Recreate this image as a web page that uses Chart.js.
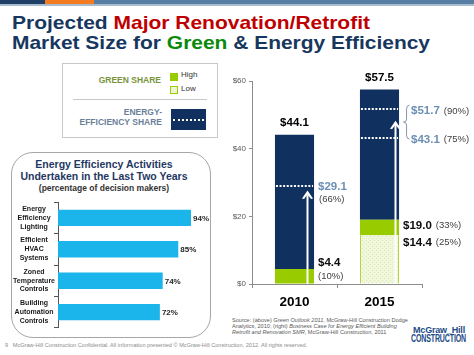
<!DOCTYPE html>
<html><head><meta charset="utf-8">
<script src="https://cdn.jsdelivr.net/npm/chart.js@4.4.0/dist/chart.umd.min.js"></script>
<style>
html,body{margin:0;padding:0;}
body{width:474px;height:355px;position:relative;overflow:hidden;background:#fff;font-family:"Liberation Sans",Arial,sans-serif;}
.a{position:absolute;white-space:nowrap;}
#band{left:0;top:0;width:474px;height:4px;background:linear-gradient(to right,#1f3f66 0,#1f3f66 45px,#f47b20 45px,#f47b20 94px,#587ea3 94px);}
#band2{left:0;top:4px;width:474px;height:2px;background:#a9bccf;}
.tl{left:12px;font-weight:bold;font-size:18.5px;line-height:20px;color:#17375e;transform-origin:0 0;}
#t1{top:13px;}
#t2{top:33px;}
.red{color:#c00000}.grn{color:#0a8a0a}
#lgbox{left:62px;top:63px;width:154px;height:73px;border:1px solid #c8c8c8;}
.lgt{font-weight:bold;font-size:8.5px;line-height:10px;text-align:right;}
#gs{right:313px;top:75px;color:#77933c;}
#es{right:312px;top:107px;color:#6b7f99;}
.sw{width:6px;height:6px;}
#swH{left:170px;top:73px;background:#99cc00;border:1px solid #99cc00;}
#swL{left:170px;top:86px;background:#eef5d6;border:1px solid #99cc00;}
.lgs{font-size:8px;line-height:10px;color:#333;}
#lH{left:181px;top:70px;}
#lL{left:181px;top:84px;}
#div{left:73px;top:99px;width:134px;height:1px;background:#c8c8c8;}
#navy{left:171px;top:109px;width:35px;height:21px;background:#10305f;}
#navyDot{left:173px;top:119px;width:31px;height:0;border-top:2px dotted #fff;}
#inset{left:11px;top:152px;width:198px;height:184px;border:1.5px solid #a6a6a6;border-radius:22px;}
.it{left:4px;width:200px;text-align:center;color:#1f3864;font-weight:bold;}
#it1{top:158px;font-size:10.5px;line-height:12px;}
#it2{top:170px;font-size:10.5px;line-height:12px;}
#it3{top:183px;font-size:8.5px;line-height:10px;color:#333;}
#src{left:232px;top:317px;font-size:5.6px;line-height:6px;color:#595959;}
#foot{left:5px;top:342px;font-size:5.6px;line-height:7px;color:#8c8c8c;}
.logo{font-weight:bold;color:#1c4a85;transform-origin:0 0;letter-spacing:-0.2px;}
#logo1{left:413px;top:325px;font-size:9.5px;line-height:9px;}
#logo2{left:411px;top:334px;font-size:10px;line-height:10px;}
#c1{position:absolute;left:222px;top:60px;}
#c2{position:absolute;left:4px;top:190px;}
</style></head>
<body>
<div class="a" id="band"></div><div class="a" id="band2"></div>
<div class="a tl" id="t1">Projected <span class="red">Major Renovation/Retrofit</span></div>
<div class="a tl" id="t2">Market Size for <span class="grn">Green</span> &amp; Energy Efficiency</div>
<div class="a" id="lgbox"></div>
<div class="a lgt" id="gs">GREEN SHARE</div>
<div class="a sw" id="swH"></div><div class="a lgs" id="lH">High</div>
<div class="a sw" id="swL"></div><div class="a lgs" id="lL">Low</div>
<div class="a" id="div"></div>
<div class="a lgt" id="es">ENERGY-<br>EFFICIENCY SHARE</div>
<div class="a" id="navy"></div><div class="a" id="navyDot"></div>
<div class="a" id="inset"></div>
<div class="a it" id="it1">Energy Efficiency Activities</div>
<div class="a it" id="it2">Undertaken in the Last Two Years</div>
<div class="a it" id="it3">(percentage of decision makers)</div>
<div class="a" id="src">Source: (above) <i>Green Outlook 2011</i>, McGraw-Hill Construction Dodge<br>Analytics, 2010; (right) <i>Business Case for Energy Efficient Building<br>Retrofit and Renovation SMR</i>, McGraw-Hill Construction, 2011</div>
<div class="a" id="foot">9&nbsp;&nbsp;&nbsp;McGraw-Hill Construction Confidential. All information presented © McGraw-Hill Construction, 2012. All rights reserved.</div>
<div class="a logo" id="logo1">McGraw_Hill</div>
<div class="a logo" id="logo2">CONSTRUCTION</div>
<canvas id="c1" width="252" height="254"></canvas>
<canvas id="c2" width="210" height="150"></canvas>
<script>
// ---- data ----
const years = ['2010', '2015'];
const totalMarket = [44.1, 57.5];
const greenHigh = [4.4, 19.0];
const greenHighPct = [10, 33];
const greenLow = [0, 14.4];
const greenLowPct = [null, 25];
const energyHigh = [29.1, 51.7];
const energyHighPct = [66, 90];
const energyLow = [null, 43.1];
const energyLowPct = [null, 75];
const yTicks = [0, 20, 40, 60];

const activities = [['Energy','Efficiency','Lighting'],['Efficient','HVAC','Systems'],['Zoned','Temperature','Controls'],['Building','Automation','Controls']];
const activityPct = [94, 85, 74, 72];

// stretch slide text horizontally to the widths of the original slide
function fitWidth(id, w){
  const el = document.getElementById(id);
  const r = el.getBoundingClientRect().width;
  el.style.transform = 'scaleX(' + (w / r) + ')';
}
fitWidth('t1', 358); fitWidth('t2', 418);
fitWidth('logo1', 52); fitWidth('logo2', 55);

Chart.defaults.font.family = "'Liberation Sans', Arial, sans-serif";

const NAVY = '#10305f', GREEN = '#99cc00', STEEL = '#6d8fb3';

function hatch(){
  const p = document.createElement('canvas'); p.width = 4; p.height = 4;
  const g = p.getContext('2d');
  g.fillStyle = '#f1f7dd'; g.fillRect(0,0,4,4);
  g.fillStyle = '#dbe9b0'; g.fillRect(0,0,1,1); g.fillRect(2,2,1,1);
  return g.createPattern(p,'repeat');
}

const lowSeg = greenLow.map(v => v || null);
const highSeg = greenHigh.map((v,i) => +(v - (greenLow[i]||0)).toFixed(2));
const restSeg = totalMarket.map((v,i) => +(v - greenHigh[i]).toFixed(2));

const annot = {
  id: 'annot',
  afterDatasetsDraw(chart){
    const {ctx, scales:{x, y}} = chart;
    const meta = chart.getDatasetMeta(2);
    ctx.save();
    for (let i = 0; i < years.length; i++){
      const bar = meta.data[i];
      const xc = bar.x, w = bar.width, left = xc - w/2, right = xc + w/2;
      ctx.strokeStyle = '#fff'; ctx.lineWidth = 2; ctx.setLineDash([2,1.6]);
      [energyHigh[i], energyLow[i]].forEach(v => {
        if (v == null) return;
        const py = Math.round(y.getPixelForValue(v));
        ctx.beginPath(); ctx.moveTo(left+1, py); ctx.lineTo(right-1, py); ctx.stroke();
      });
      ctx.setLineDash([]);
      const ax = Math.round(xc + (i === 0 ? 12 : 15)) + 0.5;
      let tip;
      if (energyLow[i] == null) tip = y.getPixelForValue(energyHigh[i]) + 5;
      else tip = (y.getPixelForValue(energyHigh[i]) + y.getPixelForValue(energyLow[i]))/2 - 3;
      const y0 = y.getPixelForValue(0);
      ctx.strokeStyle = '#fff'; ctx.lineWidth = 2;
      ctx.beginPath(); ctx.moveTo(ax, y0); ctx.lineTo(ax, tip + 4); ctx.stroke();
      ctx.fillStyle = '#fff';
      ctx.beginPath(); ctx.moveTo(ax, tip); ctx.lineTo(ax+5.5, tip+8); ctx.lineTo(ax+3.5, tip+8.5); ctx.lineTo(ax, tip+4); ctx.lineTo(ax-3.5, tip+8.5); ctx.lineTo(ax-5.5, tip+8); ctx.closePath(); ctx.fill();

      ctx.textBaseline = 'middle';
      ctx.fillStyle = '#000'; ctx.textAlign = 'center';
      ctx.font = "bold 11.5px 'Liberation Sans', Arial";
      ctx.fillText('$' + totalMarket[i].toFixed(1), xc, y.getPixelForValue(totalMarket[i]) - 12);

      ctx.textAlign = 'left';
      const lx = right + 4;
      const money = (val, px, py, col) => {
        ctx.font = "bold 11.5px 'Liberation Sans', Arial"; ctx.fillStyle = col;
        const t = '$' + val.toFixed(1); ctx.fillText(t, px, py);
        return ctx.measureText(t).width;
      };
      const pctText = (pct, px, py) => {
        ctx.font = "9.5px 'Liberation Sans', Arial"; ctx.fillStyle = '#404040';
        ctx.fillText('(' + pct + '%)', px, py);
      };
      if (energyLow[i] == null){
        const py = y.getPixelForValue(energyHigh[i]);
        money(energyHigh[i], lx, py + 1.5, STEEL);
        pctText(energyHighPct[i], lx + 1, py + 14);
        const gy = y.getPixelForValue(greenHigh[i]);
        money(greenHigh[i], lx, gy - 6.5, '#0d0d0d');
        pctText(greenHighPct[i], lx, gy + 7.5);
      } else {
        const y1 = y.getPixelForValue(energyHigh[i]), y2 = y.getPixelForValue(energyLow[i]);
        let tw = money(energyHigh[i], lx + 8, y1 + 2, STEEL);
        pctText(energyHighPct[i], lx + 8 + tw + 4, y1 + 2);
        tw = money(energyLow[i], lx + 8, y2 + 1.5, STEEL);
        pctText(energyLowPct[i], lx + 8 + tw + 4, y2 + 1.5);
        const bx = lx + 3.5, top = y1 - 4, bot = y2 + 1, mid = (top + bot)/2;
        ctx.strokeStyle = '#8797ab'; ctx.lineWidth = 1;
        ctx.beginPath();
        ctx.moveTo(bx + 3, top); ctx.quadraticCurveTo(bx, top, bx, top + 4);
        ctx.lineTo(bx, mid - 3); ctx.quadraticCurveTo(bx, mid, bx - 3, mid);
        ctx.quadraticCurveTo(bx, mid, bx, mid + 3); ctx.lineTo(bx, bot - 4);
        ctx.quadraticCurveTo(bx, bot, bx + 3, bot); ctx.stroke();
        const gy = y.getPixelForValue(greenHigh[i]);
        tw = money(greenHigh[i], lx, gy + 6, '#0d0d0d');
        pctText(greenHighPct[i], lx + tw + 4, gy + 6);
        const ly = y.getPixelForValue(greenLow[i]);
        tw = money(greenLow[i], lx, ly + 7.5, '#0d0d0d');
        pctText(greenLowPct[i], lx + tw + 4, ly + 7.5);
      }
    }
    ctx.restore();
  }
};

new Chart(document.getElementById('c1'), {
  type: 'bar',
  data: {
    labels: years,
    datasets: [
      {label:'Low', data: lowSeg, backgroundColor: hatch(), borderColor:'#a9d12e', borderWidth:{left:1,right:1,top:0,bottom:0}, borderSkipped:false},
      {label:'High', data: highSeg, backgroundColor: GREEN, borderWidth:0},
      {label:'Total', data: restSeg, backgroundColor: NAVY, borderWidth:0}
    ]
  },
  options: {
    responsive:false, animation:false,
    datasets:{bar:{categoryPercentage:1, barPercentage:0.46}},
    layout:{padding:{top:21, right:52, left:0, bottom:0}},
    plugins:{legend:{display:false}, tooltip:{enabled:false}},
    scales:{
      x:{stacked:true, grid:{drawOnChartArea:false, tickLength:4, color:'#8c8c8c'}, border:{color:'#8c8c8c'},
         ticks:{font:{size:13.5, weight:'bold'}, color:'#000', padding:6}, afterFit(s){ s.height = 30; }},
      y:{stacked:true, min:0, max:60, afterBuildTicks(s){ s.ticks = yTicks.map(v => ({value:v})); },
         ticks:{callback:v => '$' + v, font:{size:8}, color:'#595959', padding:3},
         grid:{drawOnChartArea:false, tickLength:3, color:'#8c8c8c'}, border:{color:'#8c8c8c'},
         afterFit(s){ s.width = 30; }}
    }
  },
  plugins:[annot]
});

const valLabels = {
  id:'valLabels',
  afterDatasetsDraw(chart){
    const {ctx} = chart; const meta = chart.getDatasetMeta(0);
    ctx.save(); ctx.font = "bold 8px 'Liberation Sans', Arial"; ctx.fillStyle = '#262626';
    ctx.textBaseline = 'middle'; ctx.textAlign = 'left';
    meta.data.forEach((b,i) => ctx.fillText(activityPct[i] + '%', b.x + 2, b.y + 1));
    ctx.restore();
  }
};

new Chart(document.getElementById('c2'), {
  type:'bar',
  data:{labels: activities, datasets:[{data: activityPct, backgroundColor:'#1cb5eb', borderWidth:0, categoryPercentage:1, barPercentage:0.52}]},
  options:{
    indexAxis:'y', responsive:false, animation:false,
    layout:{padding:{top:8, bottom:9, right:14.5, left:0}},
    plugins:{legend:{display:false}, tooltip:{enabled:false}},
    scales:{
      x:{display:false, min:0, max:100},
      y:{grid:{drawOnChartArea:false, tickLength:4, color:'#555'}, border:{color:'#555'},
         ticks:{font:{size:7, weight:'bold', lineHeight:1.25}, color:'#1a1a1a', crossAlign:'center', padding:-1},
         afterFit(s){ s.width = 54; }}
    }
  },
  plugins:[valLabels]
});
</script>
</body></html>
